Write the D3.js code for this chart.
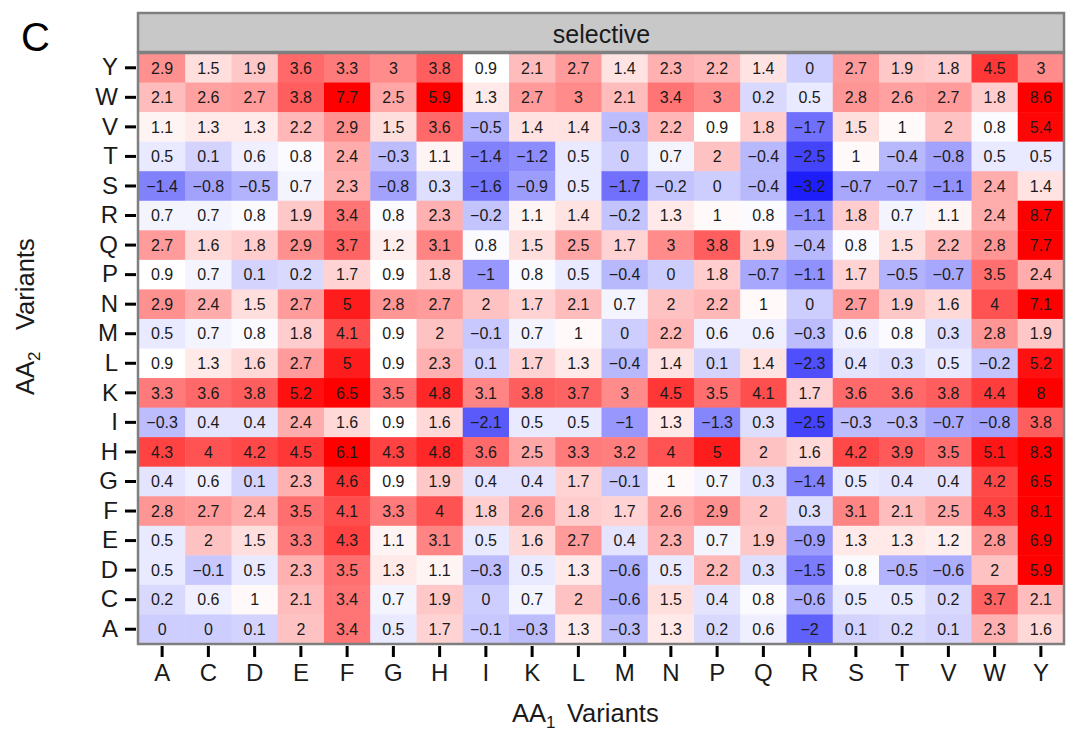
<!DOCTYPE html>
<html>
<head>
<meta charset="utf-8">
<script src="https://cdn.jsdelivr.net/npm/d3@7"></script>
<style>
  body { margin: 0; background: #fff; }
  svg { font-family: "Liberation Sans", Arial, sans-serif; }
</style>
</head>
<body>
<svg id="chart" width="1066" height="733"></svg>
<script>
// AA1 variants along x, AA2 variants along y (listed top to bottom)
const aa1Variants = ['A', 'C', 'D', 'E', 'F', 'G', 'H', 'I', 'K', 'L', 'M', 'N', 'P', 'Q', 'R', 'S', 'T', 'V', 'W', 'Y'];
const aa2Variants = ['Y', 'W', 'V', 'T', 'S', 'R', 'Q', 'P', 'N', 'M', 'L', 'K', 'I', 'H', 'G', 'F', 'E', 'D', 'C', 'A'];
const panelLabel = 'selective';

// one row per AA2 variant, same order as aa2Variants; columns follow aa1Variants
const selectiveValues = [
  [2.9, 1.5, 1.9, 3.6, 3.3, 3, 3.8, 0.9, 2.1, 2.7, 1.4, 2.3, 2.2, 1.4, 0, 2.7, 1.9, 1.8, 4.5, 3],
  [2.1, 2.6, 2.7, 3.8, 7.7, 2.5, 5.9, 1.3, 2.7, 3, 2.1, 3.4, 3, 0.2, 0.5, 2.8, 2.6, 2.7, 1.8, 8.6],
  [1.1, 1.3, 1.3, 2.2, 2.9, 1.5, 3.6, -0.5, 1.4, 1.4, -0.3, 2.2, 0.9, 1.8, -1.7, 1.5, 1, 2, 0.8, 5.4],
  [0.5, 0.1, 0.6, 0.8, 2.4, -0.3, 1.1, -1.4, -1.2, 0.5, 0, 0.7, 2, -0.4, -2.5, 1, -0.4, -0.8, 0.5, 0.5],
  [-1.4, -0.8, -0.5, 0.7, 2.3, -0.8, 0.3, -1.6, -0.9, 0.5, -1.7, -0.2, 0, -0.4, -3.2, -0.7, -0.7, -1.1, 2.4, 1.4],
  [0.7, 0.7, 0.8, 1.9, 3.4, 0.8, 2.3, -0.2, 1.1, 1.4, -0.2, 1.3, 1, 0.8, -1.1, 1.8, 0.7, 1.1, 2.4, 8.7],
  [2.7, 1.6, 1.8, 2.9, 3.7, 1.2, 3.1, 0.8, 1.5, 2.5, 1.7, 3, 3.8, 1.9, -0.4, 0.8, 1.5, 2.2, 2.8, 7.7],
  [0.9, 0.7, 0.1, 0.2, 1.7, 0.9, 1.8, -1, 0.8, 0.5, -0.4, 0, 1.8, -0.7, -1.1, 1.7, -0.5, -0.7, 3.5, 2.4],
  [2.9, 2.4, 1.5, 2.7, 5, 2.8, 2.7, 2, 1.7, 2.1, 0.7, 2, 2.2, 1, 0, 2.7, 1.9, 1.6, 4, 7.1],
  [0.5, 0.7, 0.8, 1.8, 4.1, 0.9, 2, -0.1, 0.7, 1, 0, 2.2, 0.6, 0.6, -0.3, 0.6, 0.8, 0.3, 2.8, 1.9],
  [0.9, 1.3, 1.6, 2.7, 5, 0.9, 2.3, 0.1, 1.7, 1.3, -0.4, 1.4, 0.1, 1.4, -2.3, 0.4, 0.3, 0.5, -0.2, 5.2],
  [3.3, 3.6, 3.8, 5.2, 6.5, 3.5, 4.8, 3.1, 3.8, 3.7, 3, 4.5, 3.5, 4.1, 1.7, 3.6, 3.6, 3.8, 4.4, 8],
  [-0.3, 0.4, 0.4, 2.4, 1.6, 0.9, 1.6, -2.1, 0.5, 0.5, -1, 1.3, -1.3, 0.3, -2.5, -0.3, -0.3, -0.7, -0.8, 3.8],
  [4.3, 4, 4.2, 4.5, 6.1, 4.3, 4.8, 3.6, 2.5, 3.3, 3.2, 4, 5, 2, 1.6, 4.2, 3.9, 3.5, 5.1, 8.3],
  [0.4, 0.6, 0.1, 2.3, 4.6, 0.9, 1.9, 0.4, 0.4, 1.7, -0.1, 1, 0.7, 0.3, -1.4, 0.5, 0.4, 0.4, 4.2, 6.5],
  [2.8, 2.7, 2.4, 3.5, 4.1, 3.3, 4, 1.8, 2.6, 1.8, 1.7, 2.6, 2.9, 2, 0.3, 3.1, 2.1, 2.5, 4.3, 8.1],
  [0.5, 2, 1.5, 3.3, 4.3, 1.1, 3.1, 0.5, 1.6, 2.7, 0.4, 2.3, 0.7, 1.9, -0.9, 1.3, 1.3, 1.2, 2.8, 6.9],
  [0.5, -0.1, 0.5, 2.3, 3.5, 1.3, 1.1, -0.3, 0.5, 1.3, -0.6, 0.5, 2.2, 0.3, -1.5, 0.8, -0.5, -0.6, 2, 5.9],
  [0.2, 0.6, 1, 2.1, 3.4, 0.7, 1.9, 0, 0.7, 2, -0.6, 1.5, 0.4, 0.8, -0.6, 0.5, 0.5, 0.2, 3.7, 2.1],
  [0, 0, 0.1, 2, 3.4, 0.5, 1.7, -0.1, -0.3, 1.3, -0.3, 1.3, 0.2, 0.6, -2, 0.1, 0.2, 0.1, 2.3, 1.6]
];

const svg = d3.select('#chart');
const panel = { left: 139, right: 1064, top: 53, bottom: 644 };
const strip = { top: 13, bottom: 52 };
const textColor = '#1a1a1a';

const cells = [];
aa2Variants.forEach((row, i) => {
  aa1Variants.forEach((col, j) => {
    cells.push({ aa1: col, aa2: row, value: selectiveValues[i][j] });
  });
});

const x = d3.scaleBand().domain(aa1Variants).range([panel.left, panel.right]);
const y = d3.scaleBand().domain(aa2Variants).range([panel.top, panel.bottom]);

// diverging fill: blue below the midpoint, white at it, red above
const color = d3.scaleLinear()
  .domain([-3.2, 0.9, 5.5])
  .range(['rgb(30,30,250)', '#ffffff', '#ff0000'])
  .clamp(true);

const fmt = v => String(v).replace('-', '\u2212');

// tiles
svg.append('g').selectAll('rect').data(cells).enter().append('rect')
  .attr('x', d => x(d.aa1))
  .attr('y', d => y(d.aa2))
  .attr('width', x.bandwidth() + 0.5)
  .attr('height', y.bandwidth() + 0.5)
  .attr('fill', d => color(d.value));

svg.append('g').selectAll('text').data(cells).enter().append('text')
  .attr('x', d => x(d.aa1) + x.bandwidth() / 2)
  .attr('y', d => y(d.aa2) + y.bandwidth() / 2)
  .attr('dy', '0.36em')
  .attr('text-anchor', 'middle')
  .attr('font-size', 16)
  .attr('fill', textColor)
  .text(d => fmt(d.value));

// panel border and facet strip
svg.append('rect')
  .attr('x', panel.left - 1).attr('y', panel.top)
  .attr('width', panel.right - panel.left + 1).attr('height', panel.bottom - panel.top)
  .attr('fill', 'none').attr('stroke', '#7f7f7f').attr('stroke-width', 2.5);

svg.append('rect')
  .attr('x', panel.left - 1).attr('y', strip.top)
  .attr('width', panel.right - panel.left + 1).attr('height', strip.bottom - strip.top)
  .attr('fill', '#c8c8c8').attr('stroke', '#7f7f7f').attr('stroke-width', 2.5);

svg.append('text')
  .attr('x', (panel.left + panel.right) / 2)
  .attr('y', 43)
  .attr('text-anchor', 'middle')
  .attr('font-size', 25)
  .attr('fill', textColor)
  .text(panelLabel);

// axes
const yAxis = svg.append('g')
  .attr('transform', `translate(${panel.left - 3},0)`)
  .call(d3.axisLeft(y).tickSize(11).tickPadding(7).tickSizeOuter(0));
const xAxis = svg.append('g')
  .attr('transform', `translate(0,${panel.bottom + 2})`)
  .call(d3.axisBottom(x).tickSize(11).tickPadding(7).tickSizeOuter(0));

for (const ax of [xAxis, yAxis]) {
  ax.select('.domain').remove();
  ax.selectAll('.tick line').attr('stroke', '#000').attr('stroke-width', 3);
  ax.selectAll('.tick text')
    .attr('font-size', 24)
    .attr('font-family', '"Liberation Sans", Arial, sans-serif')
    .attr('fill', textColor);
}

// axis titles with subscripts
const xTitle = svg.append('text')
  .attr('x', 512).attr('y', 722)
  .attr('font-size', 25.5)
  .attr('fill', textColor);
xTitle.append('tspan').text('AA');
xTitle.append('tspan').attr('font-size', 17).attr('dy', 6).text('1');
xTitle.append('tspan').attr('x', 567).attr('dy', -6).text('Variants');

const yTitle = svg.append('text')
  .attr('transform', 'translate(34,395) rotate(-90)')
  .attr('font-size', 25.5)
  .attr('fill', textColor);
yTitle.append('tspan').attr('x', 0).text('AA');
yTitle.append('tspan').attr('font-size', 17).attr('dy', 6).text('2');
yTitle.append('tspan').attr('x', 65).attr('dy', -6).text('Variants');

// figure tag
svg.append('text')
  .attr('x', 21).attr('y', 51)
  .attr('font-size', 40)
  .attr('fill', '#000')
  .text('C');
</script>
</body>
</html>
